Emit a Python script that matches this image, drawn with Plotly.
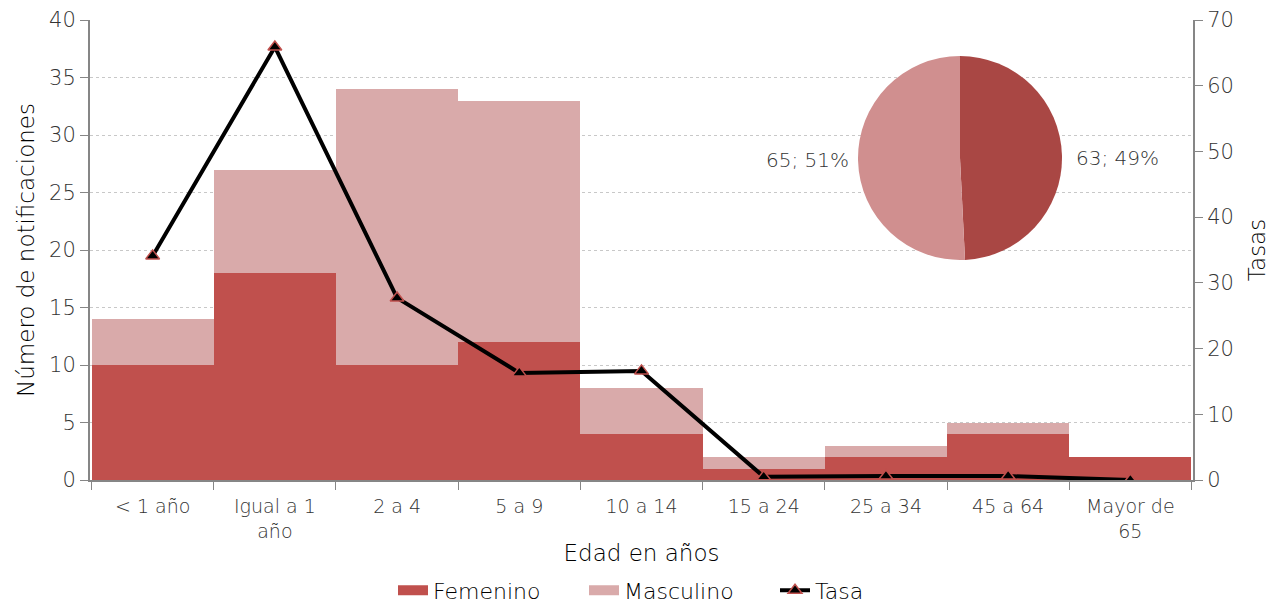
import plotly.graph_objects as go

categorias = ["< 1 año", "Igual a 1<br>año", "2 a 4", "5 a 9", "10 a 14", "15 a 24", "25 a 34", "45 a 64", "Mayor de<br>65"]
femenino = [10, 18, 10, 12, 4, 1, 2, 4, 2]
masculino = [4, 9, 24, 21, 4, 1, 1, 1, 0]
tasa = [34.1, 65.9, 27.7, 16.3, 16.6, 0.5, 0.6, 0.6, 0.0]
pie_labels = ["Femenino", "Masculino"]
pie_values = [63, 65]

FONT = "DejaVu Sans"
WT = 200
TXT = "#333333"
DARK = "#000000"
C_FEM = "#C0504D"
C_MAS = "#D9AAAA"

fig = go.Figure()
fig.add_trace(go.Bar(x=categorias, y=femenino, name="Femenino", showlegend=False,
                     marker=dict(color=C_FEM, line=dict(width=0))))
fig.add_trace(go.Bar(x=categorias, y=masculino, name="Masculino", showlegend=False,
                     marker=dict(color=C_MAS, line=dict(width=0))))
fig.add_trace(go.Scatter(x=categorias, y=tasa, name="Tasa", yaxis="y2",
                         mode="lines+markers", showlegend=False,
                         line=dict(color="black", width=4),
                         marker=dict(symbol="triangle-up", size=12, color="black",
                                     line=dict(color=C_FEM, width=1.5))))
# legend entries (wide swatches like the reference)
fig.add_trace(go.Scatter(x=[None], y=[None], name="Femenino", mode="lines",
                         line=dict(color=C_FEM, width=15)))
fig.add_trace(go.Scatter(x=[None], y=[None], name="Masculino", mode="lines",
                         line=dict(color=C_MAS, width=15)))
fig.add_trace(go.Scatter(x=[None], y=[None], name="Tasa", mode="lines+markers",
                         line=dict(color="black", width=4),
                         marker=dict(symbol="triangle-up", size=12, color="black",
                                     line=dict(color=C_FEM, width=1.5))))

L, R, T, B = 90, 85, 20, 125
W, H = 1278, 605
pw, ph = W - L - R, H - T - B
px0, px1 = 858, 1062
py0, py1 = 56, 260
fig.add_trace(go.Pie(labels=pie_labels, values=pie_values, sort=False,
                     direction="clockwise", rotation=0,
                     marker=dict(colors=["#A94744", "#D08F8F"], line=dict(width=0)),
                     textinfo="none", showlegend=False, hoverinfo="label+value+percent",
                     domain=dict(x=[(px0 - L) / pw, (px1 - L) / pw],
                                 y=[(H - B - py1) / ph, (H - B - py0) / ph])))

total = sum(pie_values)
fig.add_annotation(x=(1117 - L) / pw, y=(H - B - 158) / ph, xref="paper", yref="paper",
                   xanchor="center", yanchor="middle",
                   text=f"{pie_values[0]}; {round(100 * pie_values[0] / total)}%",
                   showarrow=False, font=dict(family=FONT, size=20, color=TXT, weight=WT))
fig.add_annotation(x=(807 - L) / pw, y=(H - B - 160) / ph, xref="paper", yref="paper",
                   xanchor="center", yanchor="middle",
                   text=f"{pie_values[1]}; {round(100 * pie_values[1] / total)}%",
                   showarrow=False, font=dict(family=FONT, size=20, color=TXT, weight=WT))

fig.update_layout(
    width=W, height=H,
    margin=dict(l=L, r=R, t=T, b=B, autoexpand=False),
    barmode="stack", bargap=0,
    plot_bgcolor="white", paper_bgcolor="white",
    font=dict(family=FONT, size=19, color=TXT, weight=WT),
    xaxis=dict(title=dict(text="Edad en años", font=dict(size=23, color=DARK, weight=WT), standoff=4),
               automargin=False,
               showline=True, linecolor="#868686", linewidth=2,
               ticks="outside", tickson="boundaries", ticklen=8, tickcolor="#868686",
               ticklabelstandoff=8,
               tickfont=dict(size=19, color=TXT, weight=WT)),
    yaxis=dict(title=dict(text="Número de notificaciones", font=dict(size=23, color=DARK, weight=WT), standoff=8),
               automargin=False,
               range=[0, 40], dtick=5, showline=True, linecolor="#868686", linewidth=2,
               ticks="outside", ticklen=8, tickcolor="#868686",
               showgrid=True, gridcolor="#C8C8C8", griddash="dot", gridwidth=1,
               zeroline=False, tickfont=dict(size=21, color=TXT, weight=WT)),
    yaxis2=dict(title=dict(text="Tasas", font=dict(size=23, color=DARK, weight=WT), standoff=16),
                automargin=False,
                range=[0, 70], dtick=10, overlaying="y", side="right",
                showline=True, linecolor="#868686", linewidth=2,
                ticks="outside", ticklen=8, tickcolor="#868686",
                showgrid=False, zeroline=False, tickfont=dict(size=21, color=TXT, weight=WT)),
    legend=dict(orientation="h", x=(393 - L) / pw, xanchor="left", y=-0.24, yanchor="middle",
                font=dict(size=22, color=DARK, weight=WT), traceorder="normal",
                entrywidth=146, entrywidthmode="pixels"),
)

fig.write_html("out.html")
